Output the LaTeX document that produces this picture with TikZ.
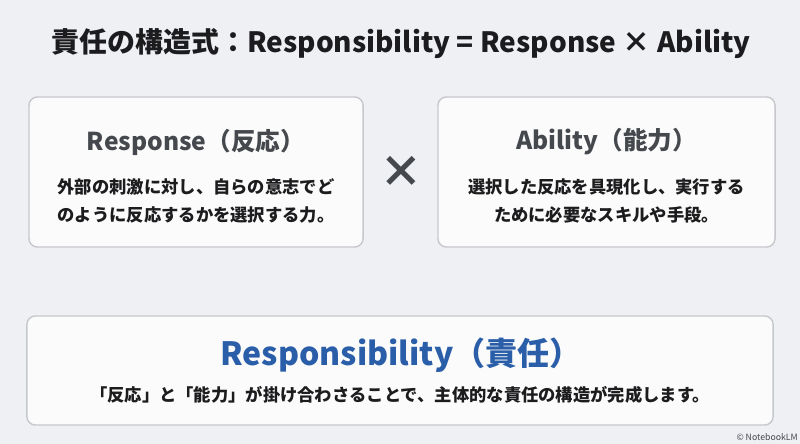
\documentclass[tikz,border=0pt]{standalone}
\usepackage{fontspec}
\setmainfont{Noto Sans CJK JP}
\usetikzlibrary{positioning}
\definecolor{bggray}{HTML}{EEF0F4}
\definecolor{cardfill}{HTML}{FBFBFB}
\definecolor{cardline}{HTML}{C6C8CC}
\definecolor{headgray}{HTML}{45484D}
\definecolor{bodyblack}{HTML}{1C1C1E}
\definecolor{respblue}{HTML}{2A5EA8}

\begin{document}
\begin{tikzpicture}[x=0.025cm,y=-0.025cm,
  card/.style={draw=cardline, line width=1pt, fill=cardfill, rounded corners=6pt},
  head/.style={font=\bfseries\fontsize{17.5}{21}\selectfont, text=headgray},
  body/.style={font=\bfseries\fontsize{12.3}{19.8}\selectfont, align=center, text=bodyblack}]

% background
\fill[bggray] (0,0) rectangle (800,444);
\useasboundingbox (0,0) rectangle (800,444);

% title
\node (title) at (401,44) [font=\bfseries\fontsize{19.9}{24}\selectfont, text=bodyblack]
{責任の構造式：Responsibility = Response × Ability};

% cards
\node (resp) at (196,172) [card, minimum width=8.35cm, minimum height=3.75cm] {};
\node (abil) at (606.5,172) [card, minimum width=8.425cm, minimum height=3.75cm] {};
\node (total) at (400,370.5) [card, minimum width=18.65cm, minimum height=2.725cm] {};

% nodes
{
\node (resphead) at (196,142) [head] {Response（反応）};
\node (respbody) at (196,201) [body]
{外部の刺激に対し、自らの意志でど\\のように反応するかを選択する力。};

\node (abilhead) at (606.5,142) [head] {Ability（能力）};
\node (abilbody) at (606.5,201) [body]
{選択した反応を具現化し、実行する\\ために必要なスキルや手段。};

\node (times) at (401,172) [font=\bfseries\fontsize{31}{31}\selectfont, text=headgray] {×};

\node (totalhead) at (401,355) [font=\bfseries\fontsize{22.8}{27}\selectfont, text=respblue]
{Responsibility（責任）};
\node (totalbody) at (400,395) [body]
{「反応」と「能力」が掛け合わさることで、主体的な責任の構造が完成します。};
}

\node (mark) at (798,437) [anchor=east, font=\fontsize{6.2}{7}\selectfont, text=headgray, inner sep=0pt]
{© NotebookLM};

\end{tikzpicture}
\end{document}
